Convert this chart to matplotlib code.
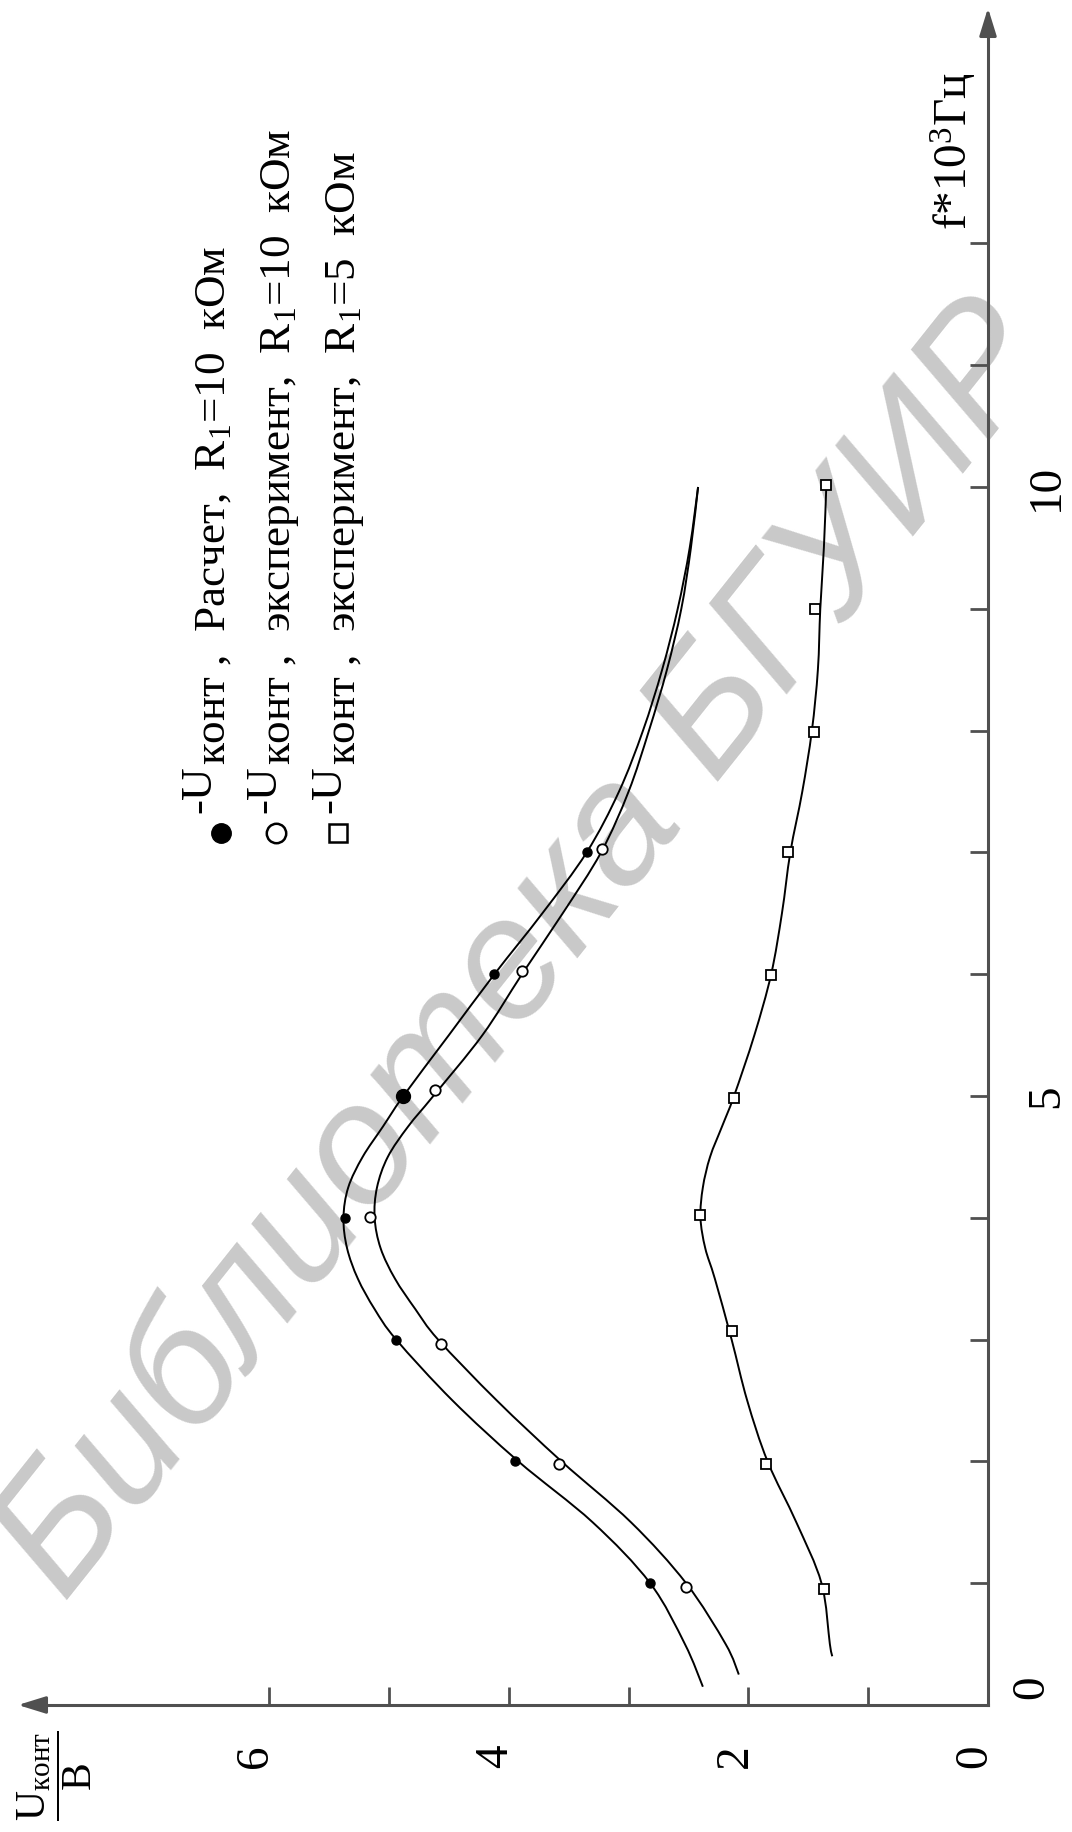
import matplotlib
matplotlib.use("Agg")
import matplotlib.pyplot as plt
from matplotlib import transforms
from matplotlib.path import Path
from matplotlib.patches import PathPatch

# шрифты (Times-подобный)
plt.rcParams['font.family'] = ['Liberation Serif', 'DejaVu Serif']
plt.rcParams['mathtext.fontset'] = 'custom'
plt.rcParams['mathtext.rm'] = 'Liberation Serif'
plt.rcParams['mathtext.it'] = 'Liberation Serif:italic'
plt.rcParams['mathtext.bf'] = 'Liberation Serif:bold'

W, H = 1072, 1832

# --- точки: расчет, R1=10 кОм
f_calc = [1, 2, 3, 4, 5, 6, 7]
u_calc = [2.82, 3.95, 4.94, 5.37, 4.88, 4.12, 3.35]

# --- точки: эксперимент, R1=10 кОм
f_exp10 = [0.97, 1.98, 2.96, 4.01, 5.05, 6.03, 7.03]
u_exp10 = [2.52, 3.58, 4.57, 5.16, 4.62, 3.89, 3.22]

# --- точки: эксперимент, R1=5 кОм
f_exp5 = [0.95, 1.98, 3.07, 4.02, 4.98, 5.99, 7.0, 7.99, 9.0, 10.02]
u_exp5 = [1.37, 1.85, 2.14, 2.40, 2.12, 1.81, 1.67, 1.45, 1.44, 1.35]

# --- сглаженные кривые
f_line1 = [0.15, 0.5, 1.0, 1.5, 2.0, 2.5, 3.0, 3.25, 3.5, 3.75, 4.0, 4.25, 4.5,
           4.75, 5.0, 5.5, 6.0, 6.5, 7.0, 7.5, 8.0, 8.5, 9.0, 9.5, 10.0]
u_line1 = [2.38, 2.53, 2.82, 3.30, 3.92, 4.47, 4.94, 5.12, 5.26, 5.35, 5.38, 5.34, 5.22,
           5.05, 4.88, 4.50, 4.12, 3.72, 3.35, 3.08, 2.88, 2.72, 2.59, 2.49, 2.42]

f_line2 = [0.25, 0.5, 1.0, 1.5, 2.0, 2.5, 3.0, 3.25, 3.5, 3.75, 4.0, 4.25, 4.5,
           4.75, 5.0, 5.5, 6.0, 6.5, 7.0, 7.5, 8.0, 8.5, 9.0, 9.5, 10.0]
u_line2 = [2.08, 2.19, 2.52, 2.98, 3.56, 4.10, 4.59, 4.78, 4.95, 5.07, 5.12, 5.10, 5.01,
           4.84, 4.63, 4.22, 3.89, 3.55, 3.23, 3.00, 2.83, 2.68, 2.56, 2.48, 2.42]

f_line3 = [0.4, 0.5, 1.0, 1.5, 2.0, 2.5, 3.0, 3.5, 3.75, 4.0, 4.25, 4.5, 4.75,
           5.0, 5.5, 6.0, 6.5, 7.0, 7.5, 8.0, 8.5, 9.0, 9.5, 10.0]
u_line3 = [1.30, 1.32, 1.39, 1.60, 1.84, 2.01, 2.14, 2.28, 2.36, 2.40, 2.38, 2.32, 2.22,
           2.12, 1.95, 1.81, 1.72, 1.65, 1.55, 1.47, 1.42, 1.40, 1.37, 1.35]

f_ticks = list(range(13))
u_ticks = list(range(7))
f_ticklabels = ['0', '5', '10']
u_ticklabels = ['0', '2', '4', '6']

legend_texts = [
    r'конт ,  Расчет,  R$_{\mathrm{1}}$=10  кОм',
    r'конт ,  эксперимент,  R$_{\mathrm{1}}$=10  кОм',
    r'конт ,  эксперимент,  R$_{\mathrm{1}}$=5  кОм',
]

# геометрия картинки (пиксели)
X0, PX_U = 988, 119.8     # U=0 и пикселей на 1 В
Y0, PX_F = 1705, 121.8    # f=0 и пикселей на 1 кГц
AX_COL = '#505050'

fig = plt.figure(figsize=(W / 100, H / 100), dpi=100)
fig.patch.set_facecolor('white')
ax = fig.add_axes([0, 0, 1, 1])
ax.set_xlim(X0 / PX_U, (X0 - W) / PX_U)
ax.set_ylim((Y0 - H) / PX_F, Y0 / PX_F)


def fig_xy(px, py):
    return px / W, 1 - py / H


def off(dx, dy):
    return transforms.offset_copy(ax.transData, fig=fig, x=dx, y=dy, units='dots')


def smooth_path(xs, ys):
    # гладкая кривая Безье через считанные точки
    pts = list(zip(xs, ys))
    n = len(pts)
    verts, codes = [pts[0]], [Path.MOVETO]
    for i in range(n - 1):
        p0 = pts[i - 1] if i > 0 else pts[i]
        p1, p2 = pts[i], pts[i + 1]
        p3 = pts[i + 2] if i + 2 < n else pts[i + 1]
        c1 = (p1[0] + (p2[0] - p0[0]) / 6, p1[1] + (p2[1] - p0[1]) / 6)
        c2 = (p2[0] - (p3[0] - p1[0]) / 6, p2[1] - (p3[1] - p1[1]) / 6)
        verts += [c1, c2, p2]
        codes += [Path.CURVE4] * 3
    return Path(verts, codes)


# оси
for s in ['top', 'left']:
    ax.spines[s].set_visible(False)
f_end, f_tip = (Y0 - 33) / PX_F, (Y0 - 8) / PX_F
u_end, u_tip = (X0 - 47) / PX_U, (X0 - 18) / PX_U
ax.spines['right'].set_position(('data', 0))
ax.spines['bottom'].set_position(('data', 0))
ax.spines['right'].set_bounds(0, f_end)
ax.spines['bottom'].set_bounds(0, u_end)
for s in ['right', 'bottom']:
    ax.spines[s].set_color(AX_COL)
    ax.spines[s].set_linewidth(2.2)
    ax.spines[s].set_capstyle('projecting')
ax.yaxis.tick_right()
ax.xaxis.tick_bottom()
ax.set_yticks(f_ticks)
ax.set_xticks(u_ticks)
ax.tick_params(direction='in', length=13, width=2, color=AX_COL,
               labelbottom=False, labelright=False, labelleft=False, labeltop=False)

arr = dict(arrowstyle='-|>,head_length=0.42,head_width=0.13', mutation_scale=40,
           color=AX_COL, lw=2.2, shrinkA=0, shrinkB=0)
ax.annotate('', xy=(0, f_tip), xytext=(0, f_end), arrowprops=arr, annotation_clip=False)
ax.annotate('', xy=(u_tip, 0), xytext=(u_end, 0), arrowprops=arr, annotation_clip=False)

# подписи делений
for lab in f_ticklabels:
    v = float(lab)
    dx, dy = (55, 18) if v == 0 else (70, 0)
    ax.text(0, v, lab, transform=off(dx, dy), rotation=90, rotation_mode='anchor',
            ha='center', va='baseline', fontsize=34)
for lab in u_ticklabels:
    v = float(lab)
    ax.text(v, 0, lab, transform=off(-2, -51), rotation=90, rotation_mode='anchor',
            ha='center', va='baseline', fontsize=34)

ax.text(0, (Y0 - 151) / PX_F, r'f*10$^{\mathrm{3}}$Гц', transform=off(-20, 0),
        rotation=90, rotation_mode='anchor', ha='center', va='baseline', fontsize=34)
fig.text(*fig_xy(55, 1776), r'$\dfrac{\mathrm{U}_{\mathrm{конт}}}{\mathrm{В}}$',
         rotation=90, ha='center', va='center', fontsize=30)

# водяной знак
ax.text(*fig_xy(526, 952), 'Библиотека БГУИР', transform=fig.transFigure,
        rotation=51.5, ha='center', va='center', fontsize=123, color='#c9c9c9',
        family=['Liberation Sans', 'DejaVu Sans'], style='italic', zorder=0.5)

# кривые
for fl, ul in [(f_line1, u_line1), (f_line2, u_line2), (f_line3, u_line3)]:
    ax.add_patch(PathPatch(smooth_path(ul, fl), fill=False, ec='black', lw=1.4, zorder=2))

# точки
ax.plot(u_calc, f_calc, 'o', color='black', ms=6.5, zorder=3)
ax.plot([u_calc[4]], [f_calc[4]], 'o', color='black', ms=10, zorder=3)
ax.plot(u_exp10, f_exp10, 'o', mfc='white', mec='black', mew=1.3, ms=7.5, zorder=3)
ax.plot(u_exp5, f_exp5, 's', mfc='white', mec='black', mew=1.3, ms=7, zorder=3)

# легенда (повернута)
fig.canvas.draw()
legend_markers = [dict(marker='o', mfc='black', mec='black', ms=14),
                  dict(marker='o', mfc='white', mec='black', mew=1.8, ms=14),
                  dict(marker='s', mfc='white', mec='black', mew=1.8, ms=13)]
marker_x = [221, 276, 338]
base_x = [225, 290, 355]
for i in range(3):
    ax.plot(*fig_xy(marker_x[i], 833), transform=fig.transFigure, clip_on=False,
            zorder=4, **legend_markers[i])
    t1 = ax.text(*fig_xy(base_x[i] - 15, 813), '-U', transform=fig.transFigure,
                 rotation=90, rotation_mode='anchor', ha='left', va='baseline',
                 fontsize=32.5, zorder=4)
    ax.annotate(legend_texts[i], xy=(base_x[i], 1.0), xycoords=('figure pixels', t1),
                rotation=90, rotation_mode='anchor', ha='left', va='baseline',
                fontsize=32.5, zorder=4)

fig.savefig('out.png', dpi=100, facecolor='white')
